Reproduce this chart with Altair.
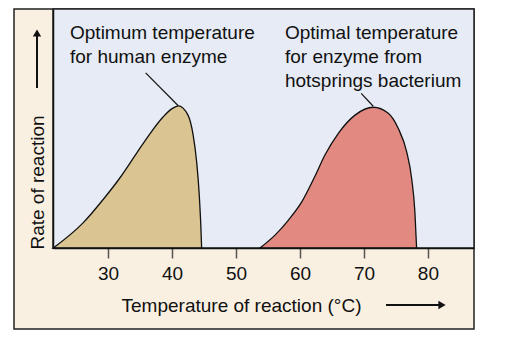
import altair as alt
import pandas as pd

# Temperature (°C) and relative rate for each enzyme curve
human_temp = [21.45, 26.1, 29.3, 31.9, 34.5, 36.6, 38.6, 40.0, 41.0, 42.5, 43.3, 43.85, 44.26, 44.52, 44.63]
human_rate = [0.0, 0.105, 0.205, 0.295, 0.398, 0.480, 0.548, 0.583, 0.595, 0.556, 0.473, 0.361, 0.222, 0.082, 0.0]

bact_temp = [53.74, 56.1, 58.2, 60.3, 62.3, 63.9, 66.0, 68.6, 71.45, 73.8, 75.35, 76.67, 77.45, 77.96, 78.23]
bact_rate = [0.0, 0.054, 0.117, 0.194, 0.298, 0.389, 0.480, 0.556, 0.589, 0.564, 0.501, 0.403, 0.292, 0.152, 0.0]

tick_values = [30, 40, 50, 60, 70, 80]

ann_text = [["Optimum temperature", "for human enzyme"],
            ["Optimal temperature", "for enzyme from", "hotsprings bacterium"]]
ann_temp = [24.06, 57.65]
ann_rate = [0.874, 0.874]

# leader lines: (start temp, start rate) -> (peak temp, peak rate)
lead_t1 = [35.88, 69.57]
lead_r1 = [0.733, 0.647]
lead_t2 = [40.98, 71.45]
lead_r2 = [0.595, 0.593]

FONT = "Liberation Sans"
W, H = 421, 239

xscale = alt.Scale(domain=[21.4, 87.2], nice=False, zero=False)
yscale = alt.Scale(domain=[0, 1], nice=False)

one = pd.DataFrame({"a": [0]})

frame = alt.Chart(one).mark_rect(fill="#faf0e1", stroke="#222222", strokeWidth=1.5, clip=False).encode(
    x=alt.value(-39), x2=alt.value(W), y=alt.value(0), y2=alt.value(320))
plotbg = alt.Chart(one).mark_rect(fill="#e6ebf5", stroke="#222222", strokeWidth=1.5).encode(
    x=alt.value(0), x2=alt.value(W), y=alt.value(0), y2=alt.value(H))

xaxis = alt.Axis(values=tick_values, title="Temperature of reaction (°C)", tickSize=10, tickWidth=1.5,
                 tickColor="#555555", domainColor="#111111", domainWidth=1.5, labelFont=FONT,
                 labelFontSize=19, labelColor="#111111", labelPadding=6, grid=False, zindex=1,
                 titleFont=FONT, titleFontSize=19, titleFontWeight="normal", titleColor="#111111",
                 titleX=188, titleY=63, titleBaseline="alphabetic", titleAlign="center")
yaxis = alt.Axis(values=[], title="Rate of reaction", ticks=False, labels=False, grid=False,
                 domainColor="#111111", domainWidth=1.5, zindex=1,
                 titleFont=FONT, titleFontSize=19, titleFontWeight="normal", titleColor="#111111",
                 titleAngle=270, titleX=-9.5, titleY=173, titleBaseline="alphabetic", titleAlign="center")

hdf = pd.DataFrame({"temp": human_temp, "rate": human_rate})
bdf = pd.DataFrame({"temp": bact_temp, "rate": bact_rate})

human = alt.Chart(hdf).mark_area(fill="#dac492", stroke="#111111", strokeWidth=1.3,
                                   interpolate="monotone").encode(
    x=alt.X("temp:Q", scale=xscale, axis=xaxis),
    y=alt.Y("rate:Q", scale=yscale, axis=yaxis))
bact = alt.Chart(bdf).mark_area(fill="#e28a82", stroke="#111111", strokeWidth=1.3,
                                  interpolate="monotone").encode(
    x=alt.X("temp:Q", scale=xscale),
    y=alt.Y("rate:Q", scale=yscale))

ldf = pd.DataFrame({"t1": lead_t1, "r1": lead_r1, "t2": lead_t2, "r2": lead_r2})
leaders = alt.Chart(ldf).mark_rule(color="#111111", strokeWidth=1.2).encode(
    x=alt.X("t1:Q", scale=xscale), y=alt.Y("r1:Q", scale=yscale),
    x2="t2:Q", y2="r2:Q")

adf = pd.DataFrame({"label": ann_text, "temp": ann_temp, "rate": ann_rate})
labels = alt.Chart(adf).mark_text(align="left", baseline="alphabetic", font=FONT, fontSize=19,
                                   lineHeight=24, color="#111111").encode(
    x=alt.X("temp:Q", scale=xscale), y=alt.Y("rate:Q", scale=yscale), text="label")

# direction arrows
up_line = alt.Chart(one).mark_rule(color="#111111", strokeWidth=2, clip=False).encode(
    x=alt.value(-16), y=alt.value(79), y2=alt.value(27))
up_head = alt.Chart(one).mark_point(shape="triangle-up", filled=True, color="#111111", size=70,
                                     opacity=1, clip=False).encode(x=alt.value(-16), y=alt.value(24))
right_line = alt.Chart(one).mark_rule(color="#111111", strokeWidth=2, clip=False).encode(
    x=alt.value(333), x2=alt.value(386), y=alt.value(296))
right_head = alt.Chart(one).mark_point(shape="triangle-right", filled=True, color="#111111", size=70,
                                        opacity=1, clip=False).encode(x=alt.value(389), y=alt.value(296))

chart = alt.layer(frame, plotbg, human, bact, leaders, labels, up_line, up_head, right_line, right_head).properties(
    width=W, height=H,
    autosize=alt.AutoSizeParams(type="none"),
    padding={"left": 53, "top": 9, "right": 35, "bottom": 91},
    background="white",
).configure_view(stroke=None)

chart.save("out.html", embed_options={"renderer": "svg", "actions": False})
